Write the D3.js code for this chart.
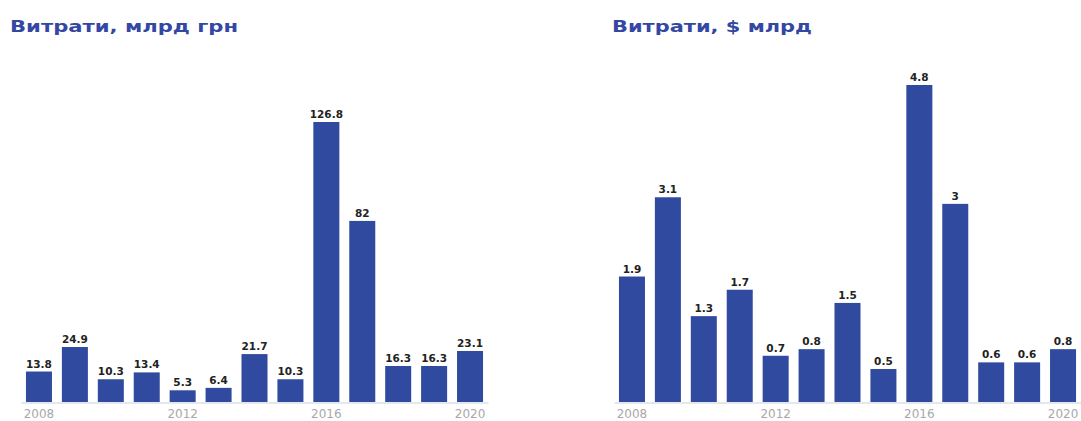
<!DOCTYPE html>
<html>
<head>
<meta charset="utf-8">
<script src="https://cdn.jsdelivr.net/npm/d3@7"></script>
<style>
  body { margin: 0; background: #fff; }
  svg { display: block; }
</style>
</head>
<body>
<svg id="chart" width="1081" height="421"></svg>
<script>
const years = [2008, 2009, 2010, 2011, 2012, 2013, 2014, 2015, 2016, 2017, 2018, 2019, 2020];
const tickYears = [2008, 2012, 2016, 2020];
const uahValues = [13.8, 24.9, 10.3, 13.4, 5.3, 6.4, 21.7, 10.3, 126.8, 82, 16.3, 16.3, 23.1];
const usdValues = [1.9, 3.1, 1.3, 1.7, 0.7, 0.8, 1.5, 0.5, 4.8, 3, 0.6, 0.6, 0.8];
const titles = ["Витрати, млрд грн", "Витрати, $ млрд"];

const svg = d3.select("#chart");
const barColor = "#2f4a9e";
const titleColor = "#3347a3";

function drawPanel(cfg) {
  const g = svg.append("g");
  const x = d3.scaleBand().domain(years).range(cfg.xRange)
    .paddingInner(0.276).paddingOuter(0.138);
  const y = d3.scaleLinear().domain([0, cfg.max]).range([402, cfg.top]);

  g.append("text")
    .attr("x", cfg.titleX).attr("y", 32)
    .attr("font-family", "DejaVu Sans, sans-serif")
    .attr("font-weight", "bold")
    .attr("font-size", 15)
    .attr("textLength", cfg.titleLen)
    .attr("lengthAdjust", "spacingAndGlyphs")
    .attr("fill", titleColor)
    .text(cfg.title);

  g.selectAll("rect.bar").data(cfg.values).join("rect")
    .attr("class", "bar")
    .attr("x", (d, i) => x(years[i]))
    .attr("width", x.bandwidth())
    .attr("y", d => y(d))
    .attr("height", d => y(0) - y(d))
    .attr("fill", barColor);

  g.selectAll("text.val").data(cfg.values).join("text")
    .attr("class", "val")
    .attr("x", (d, i) => x(years[i]) + x.bandwidth() / 2)
    .attr("y", d => y(d) - 4)
    .attr("text-anchor", "middle")
    .attr("font-family", "DejaVu Sans, sans-serif")
    .attr("font-weight", "bold")
    .attr("font-size", 10.5)
    .attr("fill", "#222")
    .text(d => String(d));

  const axis = d3.axisBottom(x).tickValues(tickYears).tickSize(0).tickPadding(7);
  const ax = g.append("g").attr("transform", "translate(0,402.5)").call(axis);
  ax.select(".domain").attr("stroke", "#c9cfdd").attr("stroke-width", 1);
  ax.selectAll("text")
    .attr("font-family", "DejaVu Sans, sans-serif")
    .attr("font-size", 12)
    .attr("fill", "#a8a8a8");
}

drawPanel({ values: uahValues, max: 126.8, top: 122, xRange: [21, 488], titleX: 10, titleLen: 228, title: titles[0] });
drawPanel({ values: usdValues, max: 4.8, top: 85, xRange: [614, 1081], titleX: 612, titleLen: 200, title: titles[1] });
</script>
</body>
</html>
